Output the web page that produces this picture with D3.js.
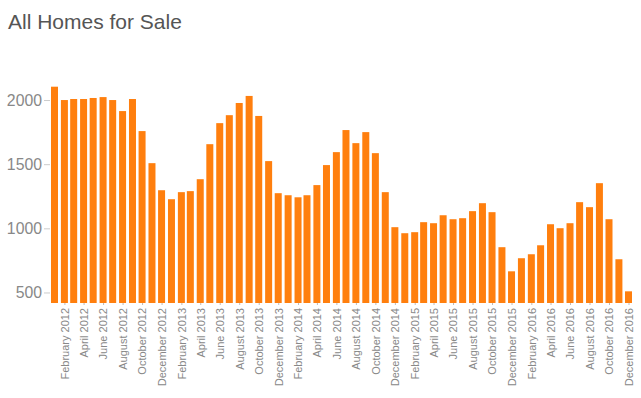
<!DOCTYPE html>
<html>
<head>
<meta charset="utf-8">
<script src="https://cdn.jsdelivr.net/npm/d3@7"></script>
<style>
  body { margin: 0; background: #fff; font-family: "Liberation Sans", Arial, Helvetica, sans-serif; }
  .title { font-size: 21px; fill: #555; }
  .axis text { fill: #888; }
  .axis line { stroke: #ccc; }
  .axis path { display: none; }
</style>
</head>
<body>
<svg id="chart" width="641" height="398"></svg>
<script>
  // monthly counts, Jan 2012 .. Dec 2016
  var months = [];
  for (var yr = 2012; yr <= 2016; ++yr) {
    for (var m = 0; m < 12; ++m) months.push(new Date(yr, m, 1));
  }
  var homes2012 = [2104, 2000, 2008, 2008, 2016, 2023, 2000, 1914, 2008, 1758, 1508, 1297];
  var homes2013 = [1227, 1282, 1290, 1383, 1656, 1820, 1882, 1977, 2032, 1876, 1524, 1274];
  var homes2014 = [1258, 1242, 1258, 1337, 1493, 1594, 1766, 1664, 1750, 1586, 1282, 1009];
  var homes2015 = [962, 970, 1048, 1040, 1102, 1071, 1079, 1134, 1196, 1126, 853, 665];
  var homes2016 = [767, 798, 868, 1032, 1001, 1040, 1204, 1165, 1352, 1071, 759, 509];
  var yTicks = [500, 1000, 1500, 2000];

  var counts = homes2012.concat(homes2013, homes2014, homes2015, homes2016);
  var data = months.map(function(d, i) { return { date: d, value: counts[i] }; });

  var svg = d3.select("#chart");
  var barWidth = 7;

  svg.append("text")
    .attr("class", "title")
    .attr("x", 8)
    .attr("y", 29)
    .text("All Homes for Sale");

  var x = d3.scaleTime()
    .domain([months[0], months[months.length - 1]])
    .range([54.5, 628.5]);

  var y = d3.scaleLinear()
    .domain([418, 2104])
    .range([303, 86.7]);

  svg.selectAll(".bar")
    .data(data)
    .enter().append("rect")
    .attr("class", "bar")
    .attr("fill", "#ff7f0e")
    .attr("x", function(d) { return x(d.date) - barWidth / 2; })
    .attr("width", barWidth)
    .attr("y", function(d) { return y(d.value); })
    .attr("height", function(d) { return y.range()[0] - y(d.value); });

  var yAxis = svg.append("g")
    .attr("class", "axis")
    .attr("transform", "translate(50,0)")
    .call(d3.axisLeft(y).tickValues(yTicks).tickSize(6).tickPadding(2).tickFormat(d3.format("d")));
  yAxis.selectAll("text").style("font-size", "15.8px");

  var xTicks = months.filter(function(d) { return d.getMonth() % 2 == 1; });
  var xAxis = svg.append("g")
    .attr("class", "axis")
    .attr("transform", "translate(0,303)")
    .call(d3.axisBottom(x).tickValues(xTicks).tickSize(2).tickFormat(d3.timeFormat("%B %Y")));
  xAxis.selectAll("line").style("stroke", "#bbb");
  xAxis.selectAll("text")
    .style("font-size", "11px")
    .style("text-anchor", "end")
    .attr("x", -5)
    .attr("y", 0)
    .attr("dy", "0.35em")
    .attr("transform", "rotate(-90)");
</script>
</body>
</html>
